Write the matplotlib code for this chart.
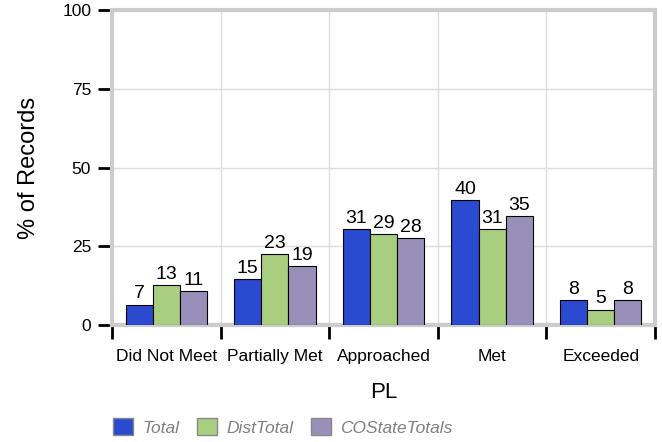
import matplotlib
matplotlib.use("Agg")
import matplotlib.pyplot as plt
from matplotlib.patches import Patch
import numpy as np

plt.rcParams['font.family'] = ['Liberation Sans', 'DejaVu Sans']

categories = ['Did Not Meet', 'Partially Met', 'Approached', 'Met', 'Exceeded']
series_names = ['Total', 'DistTotal', 'COStateTotals']
total = [6.5, 14.6, 30.5, 39.8, 7.8]
dist_total = [12.6, 22.6, 28.8, 30.5, 4.9]
co_state = [10.8, 18.7, 27.6, 34.6, 7.8]
total_labels = [7, 15, 31, 40, 8]
dist_labels = [13, 23, 29, 31, 5]
co_labels = [11, 19, 28, 35, 8]
colors = ['#2a4acf', '#a8cf80', '#9990ba']

fig = plt.figure(figsize=(6.62, 4.42), dpi=100)
ax = fig.add_axes([112/662, 1 - 325/442, 543/662, 315/442])

x = np.arange(len(categories))
w = 0.25
series = [(total, total_labels), (dist_total, dist_labels), (co_state, co_labels)]
for i, (vals, labs) in enumerate(series):
    bars = ax.bar(x + (i - 1) * w, vals, width=w, color=colors[i],
                  edgecolor='black', linewidth=0.8, zorder=3)
    ax.bar_label(bars, labels=[str(v) for v in labs], padding=1.5, fontsize=14)

ax.set_xlim(-0.5, len(categories) - 0.5)
ax.set_ylim(0, 100)
ax.set_yticks([0, 25, 50, 75, 100])
ax.set_xticks(x)
ax.set_xticklabels(categories)
ax.set_xticks(np.arange(len(categories) + 1) - 0.5, minor=True)

ax.tick_params(axis='y', length=10, width=2, color='black', labelsize=12.5, pad=5)
ax.tick_params(axis='x', which='major', length=0, labelsize=12.5, pad=17)
ax.tick_params(axis='x', which='minor', length=10, width=2, color='black')

ax.grid(True, which='minor', axis='x', color='#dddddd', linewidth=1, zorder=0)
ax.grid(True, which='major', axis='y', color='#dddddd', linewidth=1, zorder=0)
for sp in ax.spines.values():
    sp.set_color('#cccccc')
    sp.set_linewidth(3)

ax.set_ylabel('% of Records', fontsize=17, labelpad=16)
ax.set_xlabel('PL', fontsize=16, labelpad=13)

handles = [Patch(facecolor=c, edgecolor='#888888', linewidth=1) for c in colors]
leg = fig.legend(handles, series_names, loc='center left',
                 bbox_to_anchor=(106/662, 1 - 427/442), ncol=3, frameon=False,
                 fontsize=12.5, handlelength=1.15, handleheight=1.15,
                 handletextpad=0.55, columnspacing=1.0, borderaxespad=0)
for t in leg.get_texts():
    t.set_color('#808080')
    t.set_style('italic')

fig.savefig('out.png', dpi=100)
